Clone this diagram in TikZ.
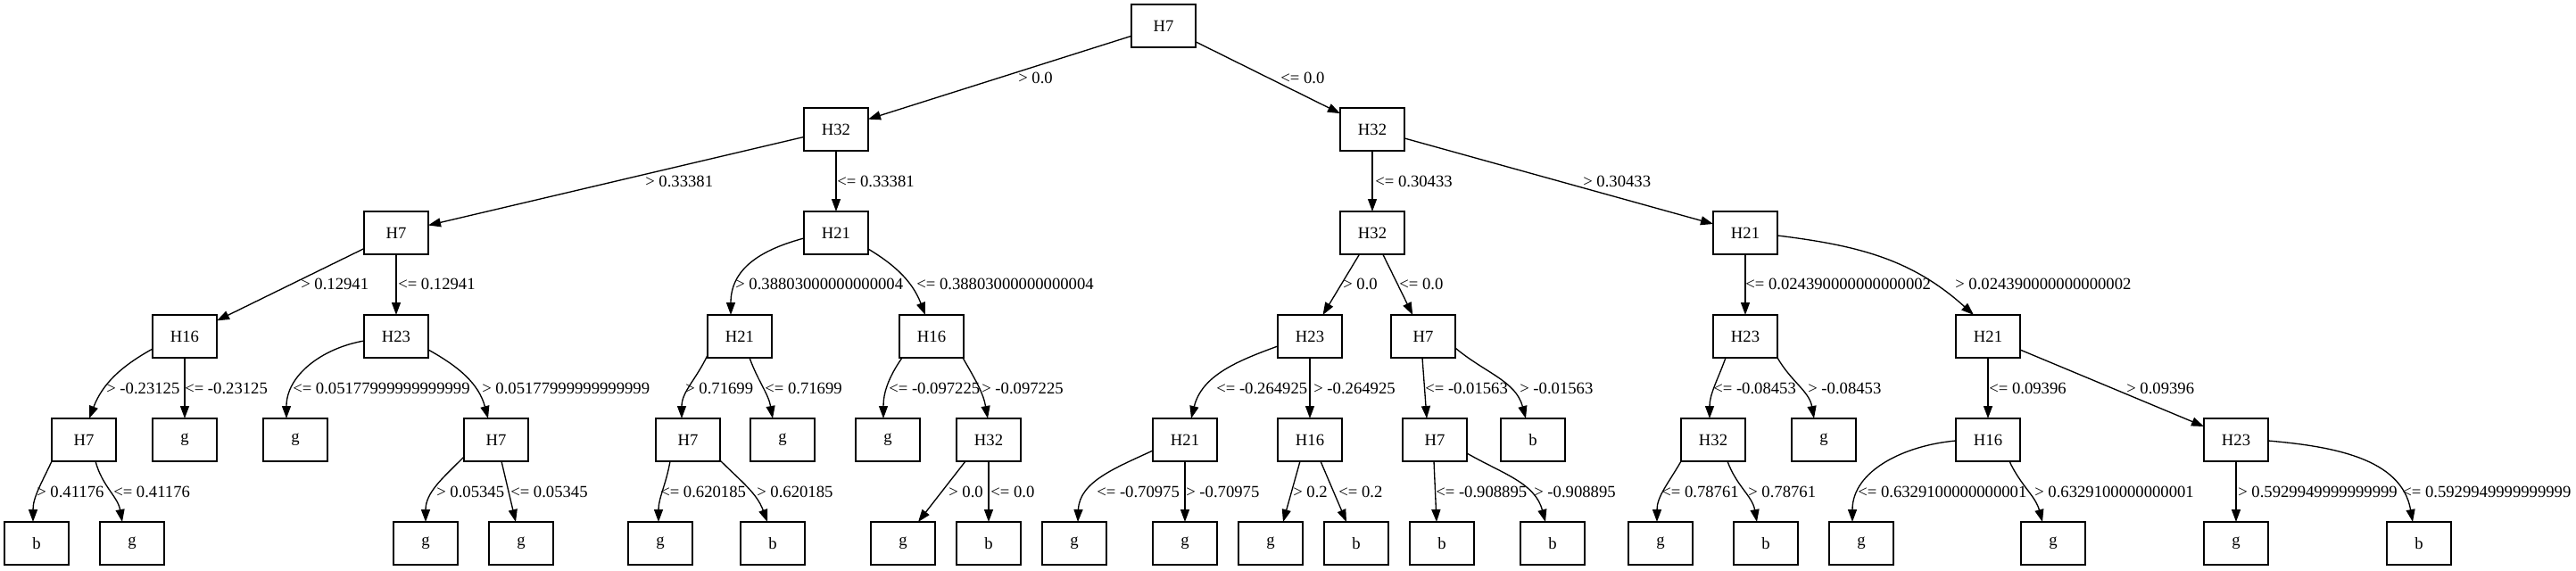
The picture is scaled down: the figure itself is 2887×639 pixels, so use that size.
\documentclass[tikz,border=0pt]{standalone}
\usepackage{fontspec}
\setmainfont{Liberation Serif}
\usetikzlibrary{arrows.meta,calc}
\begin{document}
\begin{tikzpicture}[x=0.75pt,y=-0.75pt,
  box/.style={draw,line width=1pt,minimum width=54pt,minimum height=36pt,inner sep=0pt,outer sep=0pt,font=\fontsize{14pt}{16pt}\selectfont},
  lbl/.style={anchor=west,inner sep=0pt,font=\fontsize{14pt}{16pt}\selectfont},
  conn/.style={line width=1pt,-{Triangle[length=10.5pt,width=7.5pt]}}]
\useasboundingbox (0,0) rectangle (2887,639);
% level 0
\node[box] (n0) at (1304,29) {H7};
% level 1
\node[box] (n1) at (937,145) {H32};
\node[box] (n2) at (1538,145) {H32};
% level 2
\node[box] (n3) at (444,261) {H7};
\node[box] (n4) at (937,261) {H21};
\node[box] (n5) at (1538,261) {H32};
\node[box] (n6) at (1956,261) {H21};
% level 3
\node[box] (n7) at (207,377) {H16};
\node[box] (n8) at (444,377) {H23};
\node[box] (n9) at (829,377) {H21};
\node[box] (n10) at (1044,377) {H16};
\node[box] (n11) at (1468,377) {H23};
\node[box] (n12) at (1595,377) {H7};
\node[box] (n13) at (1956,377) {H23};
\node[box] (n14) at (2228,377) {H21};
% level 4
\node[box] (n15) at (94,493) {H7};
\node[box] (n16) at (207,493) {g};
\node[box] (n17) at (331,493) {g};
\node[box] (n18) at (556,493) {H7};
\node[box] (n19) at (771,493) {H7};
\node[box] (n20) at (877,493) {g};
\node[box] (n21) at (995,493) {g};
\node[box] (n22) at (1108,493) {H32};
\node[box] (n23) at (1328,493) {H21};
\node[box] (n24) at (1468,493) {H16};
\node[box] (n25) at (1608,493) {H7};
\node[box] (n26) at (1718,493) {b};
\node[box] (n27) at (1920,493) {H32};
\node[box] (n28) at (2044,493) {g};
\node[box] (n29) at (2228,493) {H16};
\node[box] (n30) at (2506,493) {H23};
% level 5
\node[box] (n31) at (41,609) {b};
\node[box] (n32) at (148,609) {g};
\node[box] (n33) at (477,609) {g};
\node[box] (n34) at (584,609) {g};
\node[box] (n35) at (740,609) {g};
\node[box] (n36) at (866,609) {b};
\node[box] (n37) at (1012,609) {g};
\node[box] (n38) at (1108,609) {b};
\node[box] (n39) at (1204,609) {g};
\node[box] (n40) at (1328,609) {g};
\node[box] (n41) at (1424,609) {g};
\node[box] (n42) at (1520,609) {b};
\node[box] (n43) at (1616,609) {b};
\node[box] (n44) at (1740,609) {b};
\node[box] (n45) at (1861,609) {g};
\node[box] (n46) at (1979,609) {b};
\node[box] (n47) at (2086,609) {g};
\node[box] (n48) at (2301,609) {g};
\node[box] (n49) at (2506,609) {g};
\node[box] (n50) at (2711,609) {b};

% edges level 0-1
\draw[conn] (n0) -- (n1);
\draw[conn] (n0) -- (n2);
% level 1-2
\draw[conn] (n1) -- (n3);
\draw[conn] (n1) -- (n4);
\draw[conn] (n2) -- (n5);
\draw[conn] (n2) -- (n6);
% level 2-3
\draw[conn] (n3) -- (n7);
\draw[conn] (n3) -- (n8);
\draw[conn] ($(n4)+(-36,6)$) to[out=195,in=90,looseness=1.1] ($(n9.north)+(-10,0)$);
\draw[conn] ($(n4)+(36,18)$) to[out=329,in=111] ($(n10.north)+(-7,0)$);
\draw[conn] (n5) -- (n11);
\draw[conn] (n5) -- (n12);
\draw[conn] (n6) -- (n13);
\draw[conn] ($(n6)+(36,3)$) to[out=353,in=138] ($(n14.north)+(-16,0)$);
% level 3-4
\draw[conn] ($(n7)+(-36,14)$) to[out=209,in=69] ($(n15.north)+(6,0)$);
\draw[conn] (n7) -- (n16);
\draw[conn] ($(n8)+(-36,5)$) to[out=190,in=90] ($(n17.north)+(-10,0)$);
\draw[conn] ($(n8)+(36,15)$) to[out=331,in=105] ($(n18.north)+(-9,0)$);
\draw[conn] ($(n9)+(-36,21)$) to[out=245,in=90] ($(n19.north)+(-7,0)$);
\draw[conn] ($(n9)+(11,24)$) to[out=290,in=100] ($(n20.north)+(-11,0)$);
\draw[conn] ($(n10)+(-33,24)$) to[out=235,in=90] ($(n21.north)+(-5,0)$);
\draw[conn] ($(n10)+(35,24)$) to[out=300,in=100] ($(n22.north)+(-1,0)$);
\draw[conn] ($(n11)+(-36,11)$) to[out=200,in=76] ($(n23.north)+(7,0)$);
\draw[conn] (n11) -- (n24);
\draw[conn] ($(n12)+(-1,24)$) -- ($(n25.north)+(-9,0)$);
\draw[conn] ($(n12)+(36,13)$) to[out=320,in=105] ($(n26.north)+(-8,0)$);
\draw[conn] ($(n13)+(-22,24)$) to[out=250,in=90] ($(n27.north)+(-4,0)$);
\draw[conn] ($(n13)+(36,24)$) to[out=300,in=100] ($(n28.north)+(-11,0)$);
\draw[conn] (n14) -- (n29);
\draw[conn] (n14) -- (n30);
% level 4-5
\draw[conn] ($(n15)+(-36,24)$) to[out=245,in=90] ($(n31.north)+(-4,0)$);
\draw[conn] ($(n15)+(13,24)$) to[out=285,in=100] ($(n32.north)+(-11,0)$);
\draw[conn] ($(n18)+(-36,19)$) to[out=225,in=90] (n33.north);
\draw[conn] ($(n18)+(6,24)$) -- ($(n34.north)+(-6,0)$);
\draw[conn] ($(n19)+(-20,24)$) to[out=260,in=90] ($(n35.north)+(-2,0)$);
\draw[conn] ($(n19)+(35,22)$) to[out=315,in=110] ($(n36.north)+(-6,0)$);
\draw[conn] ($(n22)+(-26,24)$) -- ($(n37.north)+(17,0)$);
\draw[conn] (n22) -- (n38);
\draw[conn] ($(n23)+(-36,12)$) to[out=205,in=88] ($(n39.north)+(4,0)$);
\draw[conn] (n23) -- (n40);
\draw[conn] ($(n24)+(-11,24)$) -- ($(n41.north)+(14,0)$);
\draw[conn] ($(n24)+(12,24)$) -- ($(n42.north)+(-11,0)$);
\draw[conn] ($(n25)+(-1,24)$) -- ($(n43.north)+(-6,0)$);
\draw[conn] ($(n25)+(36,15)$) to[out=330,in=105] ($(n44.north)+(-8,0)$);
\draw[conn] ($(n27)+(-36,24)$) to[out=240,in=90] ($(n45.north)+(-4,0)$);
\draw[conn] ($(n27)+(16,24)$) to[out=290,in=100] ($(n46.north)+(-10,0)$);
\draw[conn] ($(n29)+(-36,1)$) to[out=185,in=90] ($(n47.north)+(-10,0)$);
\draw[conn] ($(n29)+(24,24)$) to[out=295,in=105] ($(n48.north)+(-12,0)$);
\draw[conn] (n30) -- (n49);
\draw[conn] ($(n30)+(36,1)$) to[out=355,in=100] ($(n50.north)+(-7,0)$);

% labels level 0-1
\node[lbl] (l1) at (1141,87) {> 0.0};
\node[lbl] (l2) at (1435,87) {<= 0.0};
% labels level 1-2
\node[lbl] (l3) at (723,203) {> 0.33381};
\node[lbl] (l4) at (938,203) {<= 0.33381};
\node[lbl] (l5) at (1541,203) {<= 0.30433};
\node[lbl] (l6) at (1774,203) {> 0.30433};
% labels level 2-3
\node[lbl] (l7) at (337,318) {> 0.12941};
\node[lbl] (l8) at (446,318) {<= 0.12941};
\node[lbl] (l9) at (824,318) {> 0.38803000000000004};
\node[lbl] (l10) at (1027,318) {<= 0.38803000000000004};
\node[lbl] (l11) at (1505,318) {> 0.0};
\node[lbl] (l12) at (1568,318) {<= 0.0};
\node[lbl] (l13) at (1956,318) {<= 0.024390000000000002};
\node[lbl] (l14) at (2191,318) {> 0.024390000000000002};
% labels level 3-4
\node[lbl] (l15) at (119,435) {> -0.23125};
\node[lbl] (l16) at (207,435) {<= -0.23125};
\node[lbl] (l17) at (328,435) {<= 0.05177999999999999};
\node[lbl] (l18) at (540,435) {> 0.05177999999999999};
\node[lbl] (l19) at (768,435) {> 0.71699};
\node[lbl] (l20) at (857,435) {<= 0.71699};
\node[lbl] (l21) at (996,435) {<= -0.097225};
\node[lbl] (l22) at (1100,435) {> -0.097225};
\node[lbl] (l23) at (1363,435) {<= -0.264925};
\node[lbl] (l24) at (1472,435) {> -0.264925};
\node[lbl] (l25) at (1597,435) {<= -0.01563};
\node[lbl] (l26) at (1703,435) {> -0.01563};
\node[lbl] (l27) at (1920,435) {<= -0.08453};
\node[lbl] (l28) at (2026,435) {> -0.08453};
\node[lbl] (l29) at (2229,435) {<= 0.09396};
\node[lbl] (l30) at (2383,435) {> 0.09396};
% labels level 4-5
\node[lbl] (l31) at (41,551) {> 0.41176};
\node[lbl] (l32) at (127,551) {<= 0.41176};
\node[lbl] (l33) at (489,551) {> 0.05345};
\node[lbl] (l34) at (572,551) {<= 0.05345};
\node[lbl] (l35) at (740,551) {<= 0.620185};
\node[lbl] (l36) at (848,551) {> 0.620185};
\node[lbl] (l37) at (1063,551) {> 0.0};
\node[lbl] (l38) at (1110,551) {<= 0.0};
\node[lbl] (l39) at (1229,551) {<= -0.70975};
\node[lbl] (l40) at (1329,551) {> -0.70975};
\node[lbl] (l41) at (1449,551) {> 0.2};
\node[lbl] (l42) at (1500,551) {<= 0.2};
\node[lbl] (l43) at (1609,551) {<= -0.908895};
\node[lbl] (l44) at (1719,551) {> -0.908895};
\node[lbl] (l45) at (1862,551) {<= 0.78761};
\node[lbl] (l46) at (1959,551) {> 0.78761};
\node[lbl] (l47) at (2082,551) {<= 0.6329100000000001};
\node[lbl] (l48) at (2280,551) {> 0.6329100000000001};
\node[lbl] (l49) at (2508,551) {> 0.5929949999999999};
\node[lbl] (l50) at (2692,551) {<= 0.5929949999999999};
\end{tikzpicture}
\end{document}
